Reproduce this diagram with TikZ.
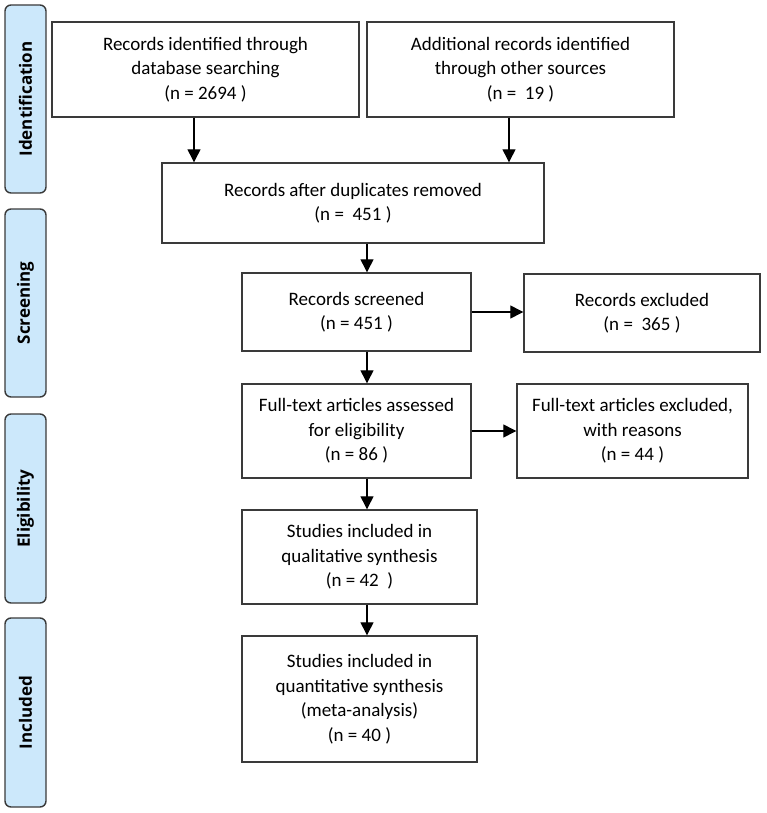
\documentclass[tikz,border=0pt]{standalone}
\usepackage{fontspec}
\setmainfont{Carlito}
\newfontfamily\sidefont{Open Sans}
\usetikzlibrary{arrows.meta,calc}
\definecolor{sidefill}{HTML}{CCE8FB}
\definecolor{edgegray}{HTML}{3A3A3A}
\begin{document}
\begin{tikzpicture}[x=1pt,y=-1pt,
  box/.style={draw=edgegray,line width=1.4pt,fill=white,align=center,inner sep=2pt,
    font=\fontsize{19}{24.5}\selectfont},
  side/.style={draw=edgegray,line width=1.4pt,fill=sidefill,rounded corners=6pt},
  sidelabel/.style={rotate=90,font=\sidefont\bfseries\fontsize{17}{20}\selectfont},
  arr/.style={line width=1.3pt,-{Triangle[width=13pt,length=13pt]}}]
\useasboundingbox (0,0) rectangle (766,813);
% side bars
\node[side,minimum width=41pt,minimum height=188pt] (s1) at (25.5,99) {};
\node[sidelabel] (s1t) at (s1.center) {Identification};
\node[side,minimum width=41pt,minimum height=188pt] (s2) at (25.5,303) {};
\node[sidelabel] (s2t) at (s2.center) {Screening};
\node[side,minimum width=41pt,minimum height=189pt] (s3) at (25.5,508.5) {};
\node[sidelabel] (s3t) at (s3.center) {Eligibility};
\node[side,minimum width=41pt,minimum height=189pt] (s4) at (25.5,712.5) {};
\node[sidelabel] (s4t) at (s4.center) {Included};
% boxes
\node[box,minimum width=307pt,minimum height=95pt] (b1) at (205.5,69.5)
  {Records identified through\\database searching\\(n = 2694 )};
\node[box,minimum width=307pt,minimum height=95pt] (b2) at (520.5,69.5)
  {Additional records identified\\through other sources\\(n = \ 19 )};
\node[box,minimum width=382pt,minimum height=80pt] (b3) at (353,203)
  {Records after duplicates removed\\(n = \ 451 )};
\node[box,minimum width=229pt,minimum height=78pt] (b4) at (356.5,312)
  {Records screened\\(n = 451 )};
\node[box,minimum width=236pt,minimum height=78pt] (b5) at (642,313)
  {Records excluded\\(n = \ 365 )};
\node[box,minimum width=229pt,minimum height=94pt] (b6) at (356.5,431)
  {Full-text articles assessed\\for eligibility\\(n = 86 )};
\node[box,minimum width=231pt,minimum height=94pt] (b7) at (632.5,431)
  {Full-text articles excluded,\\with reasons\\(n = 44 )};
\node[box,minimum width=235pt,minimum height=94pt] (b8) at (359.5,557)
  {Studies included in\\qualitative synthesis\\(n = 42 \ )};
\node[box,minimum width=235pt,minimum height=126pt] (b9) at (359.5,699)
  {Studies included in\\quantitative synthesis\\(meta-analysis)\\(n = 40 )};
% connectors
\coordinate (spine) at (367,0);
\coordinate (c1) at (194,0);
\coordinate (c2) at (509,0);
\draw[arr] (b1.south -| c1) -- (b3.north -| c1);
\draw[arr] (b2.south -| c2) -- (b3.north -| c2);
\draw[arr] (b3.south -| spine) -- (b4.north -| spine);
\draw[arr] (b4.south -| spine) -- (b6.north -| spine);
\draw[arr] (b6.south -| spine) -- (b8.north -| spine);
\draw[arr] (b8.south -| spine) -- (b9.north -| spine);
\draw[arr] (b4.east) -- (b4.east -| b5.west);
\draw[arr] (b6.east) -- (b6.east -| b7.west);
\end{tikzpicture}
\end{document}
